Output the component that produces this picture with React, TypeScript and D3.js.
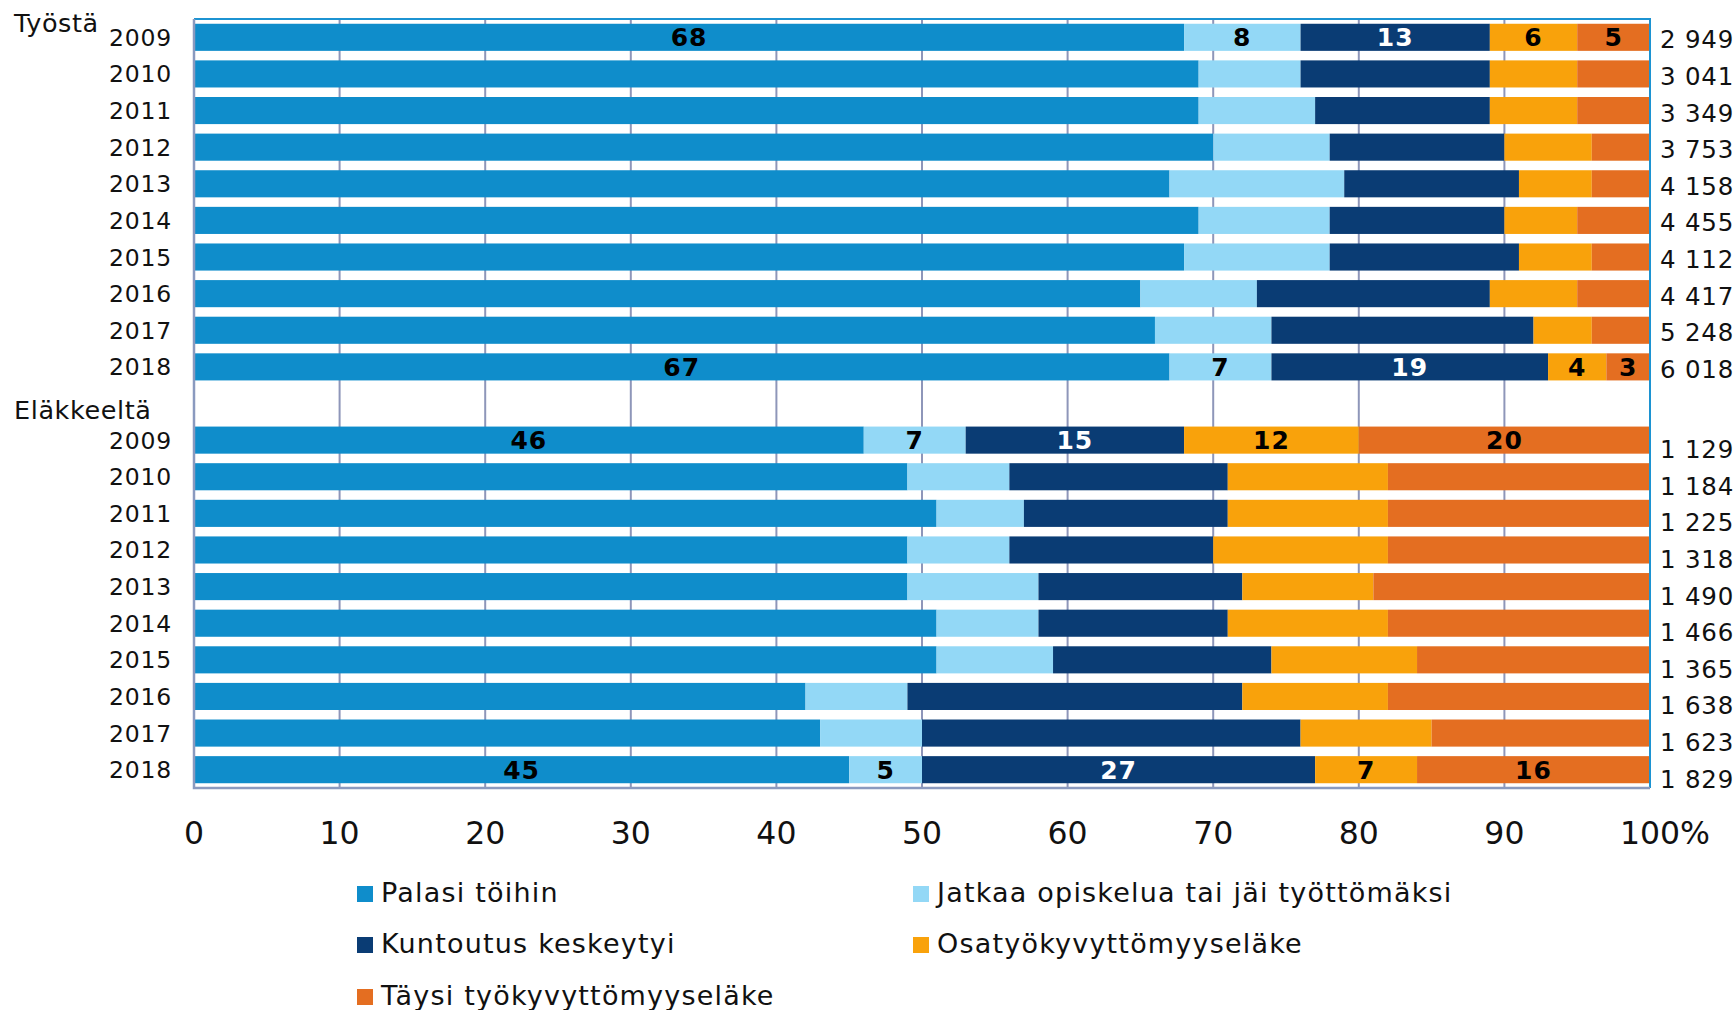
import { useEffect, useRef } from "react";
import * as d3 from "d3";

// Kuntoutuksen jälkeinen tilanne, % (rows 2009–2018)
const years = ["2009", "2010", "2011", "2012", "2013", "2014", "2015", "2016", "2017", "2018"];
const groupNames = ["Työstä", "Eläkkeeltä"];
const seriesNames = [
  "Palasi töihin",
  "Jatkaa opiskelua tai jäi työttömäksi",
  "Kuntoutus keskeytyi",
  "Osatyökyvyttömyyseläke",
  "Täysi työkyvyttömyyseläke",
];
const seriesColors = ["#0f8dcb", "#93d8f6", "#0a3c74", "#f9a20b", "#e46e21"];

// Työstä
const tyostaPalasi = [68, 69, 69, 70, 67, 69, 68, 65, 66, 67];
const tyostaJatkaa = [8, 7, 8, 8, 12, 9, 10, 8, 8, 7];
const tyostaKeskeytyi = [13, 13, 12, 12, 12, 12, 13, 16, 18, 19];
const tyostaOsa = [6, 6, 6, 6, 5, 5, 5, 6, 4, 4];
const tyostaTaysi = [5, 5, 5, 4, 4, 5, 4, 5, 4, 3];
const tyostaN = ["2 949", "3 041", "3 349", "3 753", "4 158", "4 455", "4 112", "4 417", "5 248", "6 018"];

// Eläkkeeltä
const elakePalasi = [46, 49, 51, 49, 49, 51, 51, 42, 43, 45];
const elakeJatkaa = [7, 7, 6, 7, 9, 7, 8, 7, 7, 5];
const elakeKeskeytyi = [15, 15, 14, 14, 14, 13, 15, 23, 26, 27];
const elakeOsa = [12, 11, 11, 12, 9, 11, 10, 10, 9, 7];
const elakeTaysi = [20, 18, 18, 18, 19, 18, 16, 18, 15, 16];
const elakeN = ["1 129", "1 184", "1 225", "1 318", "1 490", "1 466", "1 365", "1 638", "1 623", "1 829"];

const xTicks = [0, 10, 20, 30, 40, 50, 60, 70, 80, 90, 100];
const labelledYears = ["2009", "2018"];

const FONT = "'DejaVu Sans', Verdana, sans-serif";

export default function App() {
  const svgRef = useRef<SVGSVGElement | null>(null);

  useEffect(() => {
    if (!svgRef.current) return;
    const width = 1736;
    const height = 1010;
    const plot = { left: 194, right: 1650, top: 19, bottom: 788 };

    const svg = d3.select(svgRef.current).attr("width", width).attr("height", height);
    svg.selectAll("*").remove();

    const groupData = [
      { name: groupNames[0], vals: [tyostaPalasi, tyostaJatkaa, tyostaKeskeytyi, tyostaOsa, tyostaTaysi], n: tyostaN, nDy: 11 },
      { name: groupNames[1], vals: [elakePalasi, elakeJatkaa, elakeKeskeytyi, elakeOsa, elakeTaysi], n: elakeN, nDy: 18 },
    ];

    const keys = ["s0", "s1", "s2", "s3", "s4"];
    const rows: any[] = [];
    groupData.forEach((g, gi) => {
      if (gi > 0) rows.push({ id: "gap", blank: true });
      years.forEach((y, i) => {
        const r: any = { id: `${gi}-${y}`, year: y, group: gi, n: g.n[i], nDy: g.nDy };
        keys.forEach((k, si) => (r[k] = g.vals[si][i]));
        rows.push(r);
      });
    });
    const dataRows = rows.filter((r) => !r.blank);

    const x = d3.scaleLinear().domain([0, 100]).range([plot.left, plot.right]);
    const y = d3
      .scaleBand()
      .domain(rows.map((r) => r.id))
      .range([plot.top, plot.bottom])
      .paddingInner(0.26)
      .paddingOuter(0.13);

    // gridlines
    svg
      .append("g")
      .selectAll("line")
      .data(xTicks.slice(1, -1))
      .join("line")
      .attr("x1", (d) => x(d))
      .attr("x2", (d) => x(d))
      .attr("y1", plot.top)
      .attr("y2", plot.bottom)
      .attr("stroke", "#8e96b9")
      .attr("stroke-width", 2);

    // stacked bars
    const stacked = d3.stack().keys(keys)(dataRows);
    const barG = svg.append("g");
    stacked.forEach((layer, si) => {
      barG
        .append("g")
        .attr("fill", seriesColors[si])
        .selectAll("rect")
        .data(layer)
        .join("rect")
        .attr("x", (d: any) => x(d[0]))
        .attr("width", (d: any) => x(d[1]) - x(d[0]))
        .attr("y", (d: any) => y(d.data.id)!)
        .attr("height", y.bandwidth());

      // value labels on first and last year
      barG
        .append("g")
        .selectAll("text")
        .data(layer.filter((d: any) => labelledYears.includes(d.data.year)))
        .join("text")
        .attr("x", (d: any) => (x(d[0]) + x(d[1])) / 2)
        .attr("y", (d: any) => y(d.data.id)! + y.bandwidth() / 2 + 9)
        .attr("text-anchor", "middle")
        .attr("font-family", FONT)
        .attr("font-weight", "bold")
        .attr("font-size", 25)
        .attr("letter-spacing", 1)
        .attr("fill", si === 2 ? "#ffffff" : "#000000")
        .text((d: any) => d[1] - d[0]);
    });

    // frame
    svg
      .append("path")
      .attr("d", `M${plot.left},${plot.top}H${plot.right}V${plot.bottom}`)
      .attr("fill", "none")
      .attr("stroke", "#1c93d2")
      .attr("stroke-width", 2);
    svg
      .append("path")
      .attr("d", `M${plot.left},${plot.top}V${plot.bottom}H${plot.right}`)
      .attr("fill", "none")
      .attr("stroke", "#8a9abf")
      .attr("stroke-width", 2.5);

    // year labels
    svg
      .append("g")
      .selectAll("text")
      .data(dataRows)
      .join("text")
      .attr("x", plot.left - 22)
      .attr("y", (d: any) => y(d.id)! + y.bandwidth() / 2 + 8.5)
      .attr("text-anchor", "end")
      .attr("font-family", FONT)
      .attr("font-size", 23.5)
      .attr("letter-spacing", 0.8)
      .attr("fill", "#111")
      .text((d: any) => d.year);

    // N labels
    svg
      .append("g")
      .selectAll("text")
      .data(dataRows)
      .join("text")
      .attr("x", plot.right + 10)
      .attr("y", (d: any) => y(d.id)! + y.bandwidth() / 2 + d.nDy)
      .attr("font-family", FONT)
      .attr("font-size", 24.5)
      .attr("letter-spacing", 0.8)
      .attr("fill", "#111")
      .text((d: any) => d.n);

    // group titles
    const groupTitleY = [32, 419];
    svg
      .append("g")
      .selectAll("text")
      .data(groupNames)
      .join("text")
      .attr("x", 14)
      .attr("y", (_, i) => groupTitleY[i])
      .attr("font-family", FONT)
      .attr("font-size", 25.5)
      .attr("letter-spacing", 0.6)
      .attr("fill", "#111")
      .text((d) => d);

    // x axis labels
    const xg = svg.append("g");
    xg.selectAll("text")
      .data(xTicks)
      .join("text")
      .attr("x", (d) => (d === 100 ? x(d) - 30 : x(d)))
      .attr("y", 844)
      .attr("text-anchor", (d) => (d === 100 ? "start" : "middle"))
      .attr("font-family", FONT)
      .attr("font-size", 31.5)
      .attr("fill", "#111")
      .text((d) => (d === 100 ? "100%" : `${d}`));

    // legend
    const legendX = [357, 913];
    const legendY = [902, 953, 1005];
    const lg = svg
      .append("g")
      .selectAll("g")
      .data(seriesNames)
      .join("g")
      .attr("transform", (_, i) => `translate(${legendX[i % 2]},${legendY[Math.floor(i / 2)]})`);
    lg.append("rect")
      .attr("x", 0)
      .attr("y", -16)
      .attr("width", 16)
      .attr("height", 16)
      .attr("fill", (_, i) => seriesColors[i]);
    lg.append("text")
      .attr("x", 24)
      .attr("y", 0)
      .attr("font-family", FONT)
      .attr("font-size", 27)
      .attr("letter-spacing", 1.2)
      .attr("fill", "#111")
      .text((d) => d);
  }, []);

  return (
    <div style={{ position: "absolute", left: 0, top: 0 }}>
      <svg ref={svgRef}></svg>
    </div>
  );
}
